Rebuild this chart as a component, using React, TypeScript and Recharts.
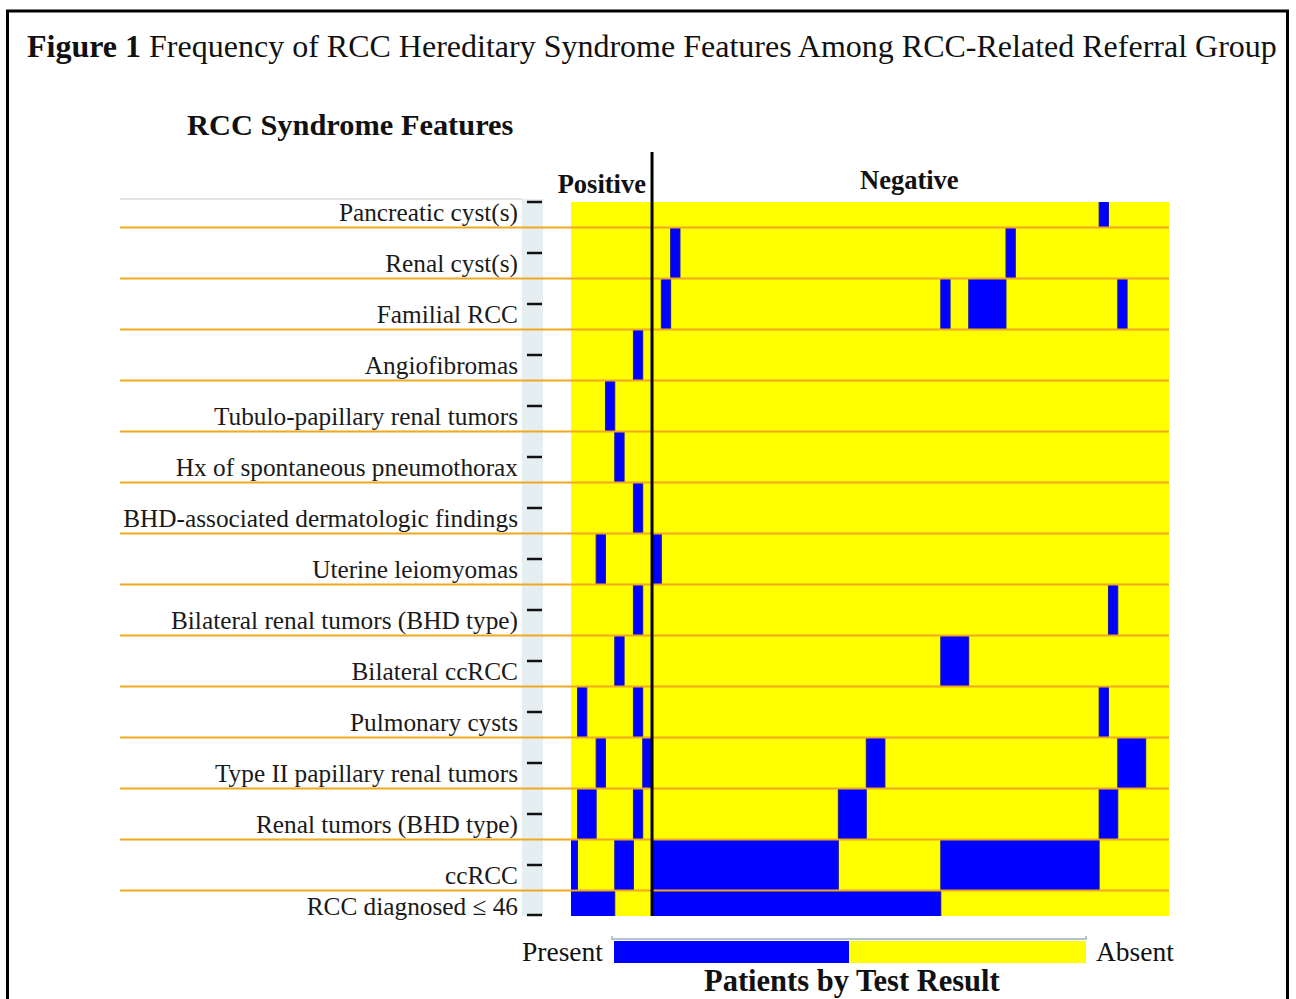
import {
  ComposedChart,
  XAxis,
  YAxis,
  ReferenceArea,
  ReferenceLine,
  Scatter,
} from "recharts";

const features = [
  "Pancreatic cyst(s)",
  "Renal cyst(s)",
  "Familial RCC",
  "Angiofibromas",
  "Tubulo-papillary renal tumors",
  "Hx of spontaneous pneumothorax",
  "BHD-associated dermatologic findings",
  "Uterine leiomyomas",
  "Bilateral renal tumors (BHD type)",
  "Bilateral ccRCC",
  "Pulmonary cysts",
  "Type II papillary renal tumors",
  "Renal tumors (BHD type)",
  "ccRCC",
  "RCC diagnosed \u2264 46",
];

// patients are columns: first the positives, then the negatives
const positivePatients = 9;
const negativePatients = 56;

// runs of "present" patients [first, last] for each feature row, same order as features
const presentRuns: [number, number][][] = [
  [[58, 58]],
  [[12, 12], [48, 48]],
  [[11, 11], [41, 41], [44, 47], [60, 60]],
  [[8, 8]],
  [[5, 5]],
  [[6, 6]],
  [[8, 8]],
  [[4, 4], [10, 10]],
  [[8, 8], [59, 59]],
  [[6, 6], [41, 43]],
  [[2, 2], [8, 8], [58, 58]],
  [[4, 4], [9, 9], [33, 34], [60, 62]],
  [[2, 3], [8, 8], [30, 32], [58, 59]],
  [[1, 1], [6, 7], [10, 29], [41, 57]],
  [[1, 5], [10, 40]],
];

const PRESENT = "#0000ff";
const ABSENT = "#ffff00";
const GRID = "#f0a81e";
const FONT = "'Liberation Serif', 'Times New Roman', serif";

const totalPatients = positivePatients + negativePatients;
const rowIds = features.map((_, i) => i + 1);
const rowPoints = rowIds.map((r) => ({ x: 1, y: r }));

const PLOT_LEFT = 571;
const PLOT_TOP = 202;
const PLOT_BOTTOM = 916;
const ROW_HALF = (PLOT_BOTTOM - PLOT_TOP) / (features.length - 1) / 2;

function FeatureTick(props: any) {
  const { y, payload } = props;
  const last = payload.value === features.length;
  return (
    <g>
      {!last && (
        <line
          x1={120}
          x2={PLOT_LEFT}
          y1={y + ROW_HALF}
          y2={y + ROW_HALF}
          stroke={GRID}
          strokeWidth={2}
        />
      )}
      <line
        x1={527}
        x2={542}
        y1={last ? y - 1 : y}
        y2={last ? y - 1 : y}
        stroke="#111"
        strokeWidth={2.5}
      />
      <text
        x={518}
        y={last ? y - 1 : y + 19}
        textAnchor="end"
        fontSize={25.3}
        fontFamily={FONT}
        fill="#1a1a1a"
      >
        {features[payload.value - 1]}
      </text>
    </g>
  );
}

function Divider(props: any) {
  const { x1, x2, y1, y2 } = props;
  return (
    <line
      x1={x1}
      x2={x2}
      y1={Math.min(y1, y2) - 50}
      y2={Math.max(y1, y2)}
      stroke="#000"
      strokeWidth={3}
    />
  );
}

export default function App() {
  return (
    <div
      style={{
        position: "absolute",
        left: 0,
        top: 0,
        width: 1296,
        height: 999,
        fontFamily: FONT,
        background: "#fff",
        overflow: "hidden",
      }}
    >
      <svg
        width={1296}
        height={999}
        style={{ position: "absolute", left: 0, top: 0 }}
      >
        <rect x={7.5} y={11} width={1280} height={1000} fill="none" stroke="#000" strokeWidth={3} />
        <text x={27} y={57} fontSize={32} fontFamily={FONT} fill="#111">
          <tspan fontWeight="bold">Figure 1</tspan> Frequency of RCC Hereditary Syndrome Features Among RCC-Related Referral Group
        </text>
        <text x={187} y={135} fontSize={30.4} fontWeight="bold" fontFamily={FONT} fill="#111">
          RCC Syndrome Features
        </text>
        <line x1={120} x2={522} y1={199} y2={199} stroke="#e4e4e4" strokeWidth={2} />
        <rect x={522} y={199} width={21} height={717} fill="#e5eef1" />
        <text x={646} y={193} textAnchor="end" fontSize={26.5} fontWeight="bold" fontFamily={FONT} fill="#111">
          Positive
        </text>
        <text x={860} y={189} fontSize={26.5} fontWeight="bold" fontFamily={FONT} fill="#111">
          Negative
        </text>
        <text x={522} y={961} fontSize={27.5} fontFamily={FONT} fill="#111">
          Present
        </text>
        <path d="M612 936 V939 H1086 V936" fill="none" stroke="#9fb0b8" strokeWidth={1.5} />
        <rect x={614} y={941} width={235} height={22} fill={PRESENT} />
        <rect x={849} y={941} width={237} height={22} fill={ABSENT} />
        <text x={1096} y={961} fontSize={27.5} fontFamily={FONT} fill="#111">
          Absent
        </text>
        <text x={704} y={991} fontSize={30.5} fontWeight="bold" fontFamily={FONT} fill="#111">
          Patients by Test Result
        </text>
      </svg>
      <div style={{ position: "absolute", left: 0, top: 0 }}>
        <ComposedChart
          width={1296}
          height={999}
          margin={{ top: PLOT_TOP, right: 127, bottom: 999 - PLOT_BOTTOM, left: 0 }}
        >
          <XAxis type="number" dataKey="x" domain={[0.8, totalPatients]} allowDataOverflow hide />
          <YAxis
            type="number"
            dataKey="y"
            domain={[1, features.length]}
            ticks={rowIds}
            interval={0}
            reversed
            allowDataOverflow
            width={PLOT_LEFT}
            axisLine={false}
            tickLine={false}
            tick={<FeatureTick />}
          />
          <ReferenceArea
            x1={0.5}
            x2={totalPatients + 0.5}
            y1={0.5}
            y2={features.length + 0.5}
            fill={ABSENT}
            fillOpacity={1}
            ifOverflow="hidden"
          />
          {presentRuns.map((runs, r) =>
            runs.map(([a, b], k) => (
              <ReferenceArea
                key={`cell-${r}-${k}`}
                x1={a - 0.5}
                x2={b + 0.5}
                y1={r + 0.5}
                y2={r + 1.5}
                fill={PRESENT}
                fillOpacity={1}
                stroke="#1a1aa0"
                strokeWidth={1}
                ifOverflow="hidden"
              />
            ))
          )}
          {rowIds.slice(0, -1).map((r) => (
            <ReferenceLine key={`grid-${r}`} y={r + 0.5} stroke={GRID} strokeWidth={2} />
          ))}
          <ReferenceLine x={positivePatients + 0.5} shape={<Divider />} />
          <Scatter data={rowPoints} isAnimationActive={false} shape={() => <g />} />
        </ComposedChart>
      </div>
    </div>
  );
}
